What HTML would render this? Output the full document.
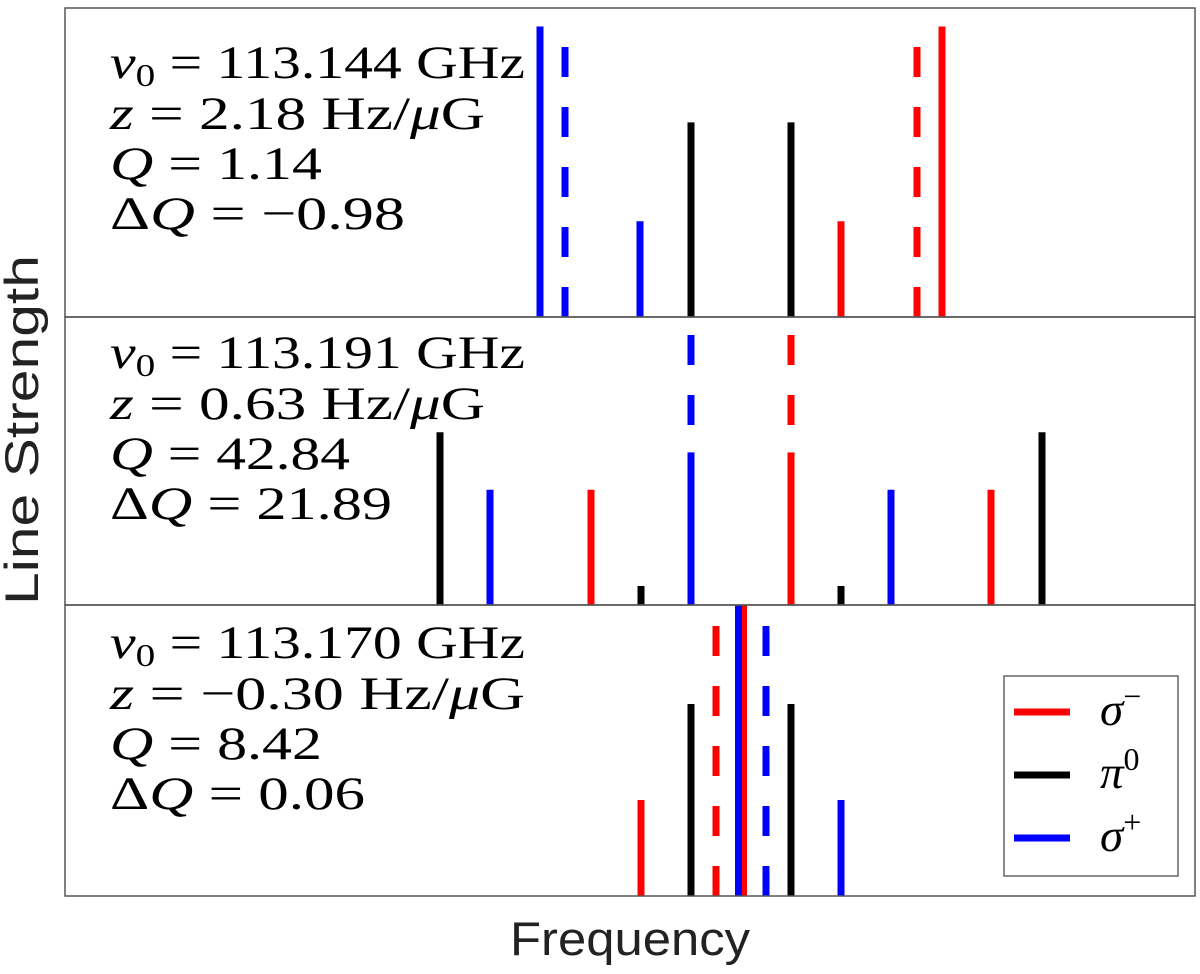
<!DOCTYPE html>
<html><head><meta charset="utf-8"><style>
html,body{margin:0;padding:0;background:#fff;}
svg{display:block;}
.t{font-family:"Liberation Serif",serif;font-size:47px;fill:#000;}
.ax{font-family:"Liberation Sans",sans-serif;font-size:47px;fill:#222;}
</style></head><body>
<svg id="chart" width="1200" height="974" viewBox="0 0 1200 974">
<g id="marks"></g>
<g id="frames"></g>
<text class="ax" x="510" y="955" textLength="240" lengthAdjust="spacingAndGlyphs">Frequency</text>
<text class="ax" transform="translate(38,605) rotate(-90)" textLength="350" lengthAdjust="spacingAndGlyphs">Line Strength</text>
<g>
<text class="t" x="110" y="78" textLength="415" lengthAdjust="spacingAndGlyphs"><tspan font-style="italic">ν</tspan><tspan font-size="32" dy="8">0</tspan><tspan dy="-8"> = 113.144 GHz</tspan></text>
<text class="t" x="110" y="129" textLength="375" lengthAdjust="spacingAndGlyphs"><tspan font-style="italic">z</tspan> = 2.18 Hz/<tspan font-style="italic">μ</tspan>G</text>
<text class="t" x="110" y="179" textLength="212" lengthAdjust="spacingAndGlyphs"><tspan font-style="italic">Q</tspan> = 1.14</text>
<text class="t" x="110" y="229" textLength="295" lengthAdjust="spacingAndGlyphs">Δ<tspan font-style="italic">Q</tspan> = −0.98</text>
</g>
<g>
<text class="t" x="110" y="368" textLength="415" lengthAdjust="spacingAndGlyphs"><tspan font-style="italic">ν</tspan><tspan font-size="32" dy="8">0</tspan><tspan dy="-8"> = 113.191 GHz</tspan></text>
<text class="t" x="110" y="419" textLength="375" lengthAdjust="spacingAndGlyphs"><tspan font-style="italic">z</tspan> = 0.63 Hz/<tspan font-style="italic">μ</tspan>G</text>
<text class="t" x="110" y="469" textLength="240" lengthAdjust="spacingAndGlyphs"><tspan font-style="italic">Q</tspan> = 42.84</text>
<text class="t" x="110" y="519" textLength="282" lengthAdjust="spacingAndGlyphs">Δ<tspan font-style="italic">Q</tspan> = 21.89</text>
</g>
<g>
<text class="t" x="110" y="658" textLength="415" lengthAdjust="spacingAndGlyphs"><tspan font-style="italic">ν</tspan><tspan font-size="32" dy="8">0</tspan><tspan dy="-8"> = 113.170 GHz</tspan></text>
<text class="t" x="110" y="709" textLength="415" lengthAdjust="spacingAndGlyphs"><tspan font-style="italic">z</tspan> = −0.30 Hz/<tspan font-style="italic">μ</tspan>G</text>
<text class="t" x="110" y="759" textLength="212" lengthAdjust="spacingAndGlyphs"><tspan font-style="italic">Q</tspan> = 8.42</text>
<text class="t" x="110" y="809" textLength="255" lengthAdjust="spacingAndGlyphs">Δ<tspan font-style="italic">Q</tspan> = 0.06</text>
</g>
<g>
<rect x="1004" y="676" width="174" height="200" fill="#fff" stroke="#666" stroke-width="1.5"/>
<line x1="1014" y1="712" x2="1070" y2="712" stroke="#ff0000" stroke-width="7"/>
<line x1="1014" y1="775" x2="1070" y2="775" stroke="#000" stroke-width="7"/>
<line x1="1014" y1="838" x2="1070" y2="838" stroke="#0000ff" stroke-width="7"/>
<text class="t" x="1100" y="725" font-style="italic">σ<tspan font-style="normal" font-size="32" dy="-18">−</tspan></text>
<text class="t" x="1100" y="788" font-style="italic">π<tspan font-style="normal" font-size="32" dy="-18">0</tspan></text>
<text class="t" x="1100" y="851" font-style="italic">σ<tspan font-style="normal" font-size="32" dy="-18">+</tspan></text>
</g>
</svg>
<script>
// Frequency offsets (arbitrary units), strengths (fraction of panel height), type, dashed
const p1Freq = [-4.02, -3.52, -2.02, -1, 1, 2, 3.52, 4.02];
const p1Str  = [0.94, 0.94, 0.31, 0.63, 0.63, 0.31, 0.94, 0.94];
const p1Type = ["sp","sp","sp","pi","pi","sm","sm","sm"];
const p1Dash = [0,1,0,0,0,0,1,0];

const p2Freq = [-6.02, -5.02, -3, -2, -1, -1, 1, 1, 2, 3, 5, 6.02];
const p2Str  = [0.60, 0.40, 0.40, 0.066, 0.94, 0.53, 0.94, 0.53, 0.066, 0.40, 0.40, 0.60];
const p2Type = ["pi","sp","sm","pi","sp","sp","sm","sm","pi","sp","sm","pi"];
const p2Dash = [0,0,0,0,1,0,1,0,0,0,0,0];

const p3Freq = [-2, -1, -0.5, 0.05, -0.05, 0.5, 1, 2];
const p3Str  = [0.33, 0.66, 0.93, 1.0, 1.0, 0.93, 0.66, 0.33];
const p3Type = ["sm","pi","sm","sm","sp","sp","pi","sp"];
const p3Dash = [0,0,1,0,0,1,0,0];

const colors = {sm:"#ff0000", pi:"#000000", sp:"#0000ff"};
const plotLeft = 65, plotRight = 1195;
const xMin = -13.52, xMax = 9.08;
function xScale(f){ return plotLeft + (f - xMin) / (xMax - xMin) * (plotRight - plotLeft); }
const panels = [
  {top:8, bottom:317, freq:p1Freq, str:p1Str, type:p1Type, dash:p1Dash},
  {top:317, bottom:605, freq:p2Freq, str:p2Str, type:p2Type, dash:p2Dash},
  {top:605, bottom:896, freq:p3Freq, str:p3Str, type:p3Type, dash:p3Dash}
];
const NS = "http://www.w3.org/2000/svg";
const marks = document.getElementById('marks');
const frames = document.getElementById('frames');
panels.forEach((p, pi) => {
  const yScale = v => p.bottom - v * (p.bottom - p.top);
  for (let i = 0; i < p.freq.length; i++) {
    const ln = document.createElementNS(NS, 'line');
    const x = xScale(p.freq[i]);
    ln.setAttribute('x1', x); ln.setAttribute('x2', x);
    ln.setAttribute('y1', p.bottom); ln.setAttribute('y2', yScale(p.str[i]));
    ln.setAttribute('stroke', colors[p.type[i]]);
    ln.setAttribute('stroke-width', 7);
    if (p.dash[i]) ln.setAttribute('stroke-dasharray', '30 30');
    
    
    marks.appendChild(ln);
  }
  const r = document.createElementNS(NS, 'rect');
  r.setAttribute('x', plotLeft); r.setAttribute('y', p.top);
  r.setAttribute('width', plotRight - plotLeft); r.setAttribute('height', p.bottom - p.top);
  r.setAttribute('fill', 'none'); r.setAttribute('stroke', '#555'); r.setAttribute('stroke-width', 1.5);
  
  
  frames.appendChild(r);
});
</script>
</body></html>
